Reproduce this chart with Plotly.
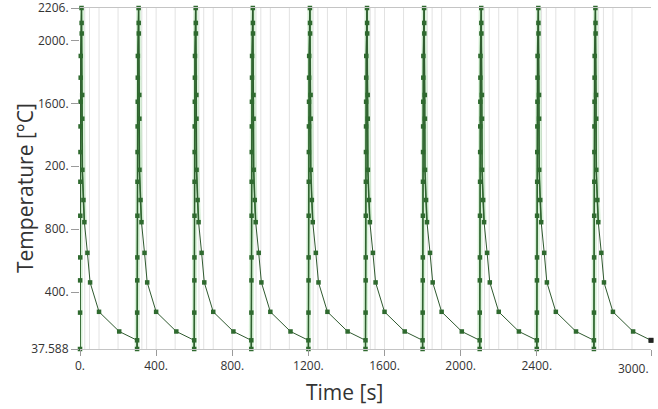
import plotly.graph_objects as go

# ---- data ----
cycle_start = [0, 300, 600, 900, 1200, 1500, 1800, 2100, 2400, 2700]   # s
heat_dt = [0, 0.4, 0.8, 1.2, 1.6, 2.0, 2.4, 2.8, 3.2, 3.6, 4.0]         # s after cycle start
heat_T = [37.588, 269, 474, 620, 885, 1101, 1290, 1453, 1610, 1763, 1901]
cool_dt = [8, 8.5, 9, 11.5, 12, 12.5, 18, 23, 39, 53, 100, 206, 300]
cool_T = [2206, 2111, 2044, 1653, 1502, 1177, 985, 844, 649, 461, 274, 149, 93]
step_grid_dt = [25, 50, 100, 200]                                       # time-step grid lines

y_tickvals = [37.588, 400, 800, 1200, 1600, 2000, 2206]
y_ticktext = ["37.588", "400.", "800.", "200.", "1600.", "2000.", "2206."]
x_tickvals = [0, 400, 800, 1200, 1600, 2000, 2400, 3000]
x_ticktext = ["0.", "400.", "800.", "1200.", "1600.", "2000.", "2400.", "3000."]

# ---- build series ----
t_all, T_all = [], []
t_halo, T_halo = [], []
for t0 in cycle_start:
    for dt, T in zip(heat_dt, heat_T):
        t_all.append(t0 + dt); T_all.append(T)
        t_halo.append(t0 + dt); T_halo.append(T)
    for i, (dt, T) in enumerate(zip(cool_dt, cool_T)):
        t_all.append(t0 + dt); T_all.append(T)
        if i < 8:
            t_halo.append(t0 + dt); T_halo.append(T)
    t_halo.append(None); T_halo.append(None)

fig = go.Figure()

# vertical time-step grid lines
for t0 in cycle_start:
    for g in step_grid_dt:
        fig.add_shape(type="line", xref="x", yref="paper", x0=t0 + g, x1=t0 + g,
                      y0=0, y1=1, layer="below", line=dict(color="#e2e2e2", width=1))

fig.add_trace(go.Scatter(x=t_halo, y=T_halo, mode="lines", hoverinfo="skip",
                         line=dict(color="rgba(150,215,150,0.35)", width=5),
                         showlegend=False, cliponaxis=False))
fig.add_trace(go.Scatter(x=t_halo, y=T_halo, mode="lines", hoverinfo="skip",
                         line=dict(color="#3a803a", width=1.6),
                         showlegend=False, cliponaxis=False))
fig.add_trace(go.Scatter(x=t_all, y=T_all, mode="lines+markers",
                         line=dict(color="#2f5a2f", width=1),
                         marker=dict(symbol="square", size=4.5, color="#2f6a2f"),
                         showlegend=False, cliponaxis=False))
fig.add_trace(go.Scatter(x=[t_all[-1]], y=[T_all[-1]], mode="markers",
                         marker=dict(symbol="square", size=5, color="#222222"),
                         showlegend=False, cliponaxis=False))

tickfont = dict(family="Open Sans", size=12, color="#333333")
last_x_label = x_ticktext[-1]
fig.update_layout(
    width=658, height=409,
    margin=dict(l=80, r=7, t=8, b=60),
    paper_bgcolor="white", plot_bgcolor="white",
    xaxis=dict(range=[0, 3000], tickvals=x_tickvals,
               ticktext=x_ticktext[:-1] + [""],
               showgrid=False, zeroline=False, showline=True, mirror=True,
               linecolor="#c4c4c4", linewidth=1, ticks="outside", ticklen=6,
               tickcolor="#9a9a9a", tickfont=tickfont, automargin=False),
    yaxis=dict(range=[37.588, 2206], tickvals=y_tickvals, ticktext=y_ticktext,
               showgrid=False, zeroline=False, showline=False,
               ticks="outside", ticklen=8, tickcolor="#9a9a9a", tickfont=tickfont,
               automargin=False, ticklabeloverflow="allow"),
    annotations=[
        dict(text=last_x_label, xref="x", yref="paper", x=x_tickvals[-1], y=0,
             xanchor="right", yanchor="top", yshift=-9, showarrow=False, font=tickfont),
        dict(text="Temperature [°C]", xref="paper", yref="paper",
             x=(25 - 80) / 571, y=(349 - 188) / 341, xanchor="center", yanchor="middle",
             textangle=-90, showarrow=False,
             font=dict(family="Open Sans", size=21, color="#333333")),
        dict(text="Time [s]", xref="paper", yref="paper",
             x=(344 - 80) / 571, y=(349 - 392) / 341, xanchor="center", yanchor="middle",
             showarrow=False, font=dict(family="Open Sans", size=21, color="#333333")),
    ],
)

fig.write_html("out.html", config={"displayModeBar": False},
               post_script="document.body.style.margin='0';")
